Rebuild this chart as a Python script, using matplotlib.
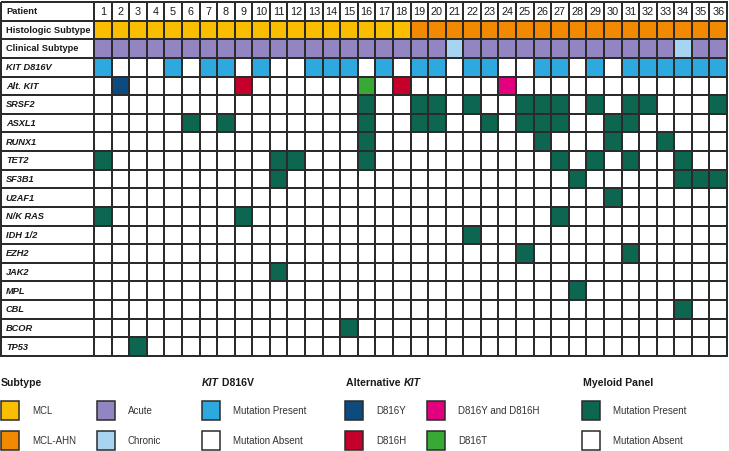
#imports
import matplotlib.pyplot as plt
from matplotlib.colors import ListedColormap
from matplotlib.patches import Rectangle

plt.rcParams['font.family'] = ['Liberation Sans', 'DejaVu Sans']

#--- data (patient numbers per category / mutation)
patients = [1, 2, 3, 4, 5, 6, 7, 8, 9, 10, 11, 12, 13, 14, 15, 16, 17, 18,
            19, 20, 21, 22, 23, 24, 25, 26, 27, 28, 29, 30, 31, 32, 33, 34, 35, 36]
mcl_ahn = [19, 20, 21, 22, 23, 24, 25, 26, 27, 28, 29, 30, 31, 32, 33, 34, 35, 36]
chronic = [21, 34]
kit_d816v = [1, 5, 7, 8, 10, 13, 14, 15, 17, 19, 20, 22, 23, 26, 27, 29,
             31, 32, 33, 34, 35, 36]
alt_kit_patients = [2, 9, 16, 18, 24]
alt_kit_variants = ['D816Y', 'D816H', 'D816T', 'D816H', 'D816Y and D816H']

genes = ['SRSF2', 'ASXL1', 'RUNX1', 'TET2', 'SF3B1', 'U2AF1', 'N/K RAS',
         'IDH 1/2', 'EZH2', 'JAK2', 'MPL', 'CBL', 'BCOR', 'TP53']
srsf2 = [16, 19, 20, 22, 25, 26, 27, 29, 31, 32, 36]
asxl1 = [6, 8, 16, 19, 20, 23, 25, 26, 27, 30, 31]
runx1 = [16, 26, 30, 33]
tet2 = [1, 11, 12, 16, 27, 29, 31, 34]
sf3b1 = [11, 28, 34, 35, 36]
u2af1 = [30]
nk_ras = [1, 9, 27]
idh = [22]
ezh2 = [25, 31]
jak2 = [11]
mpl = [28]
cbl = [34]
bcor = [15]
tp53 = [3]
gene_hits = [srsf2, asxl1, runx1, tet2, sf3b1, u2af1, nk_ras, idh,
             ezh2, jak2, mpl, cbl, bcor, tp53]

#--- colours
colors = {
    'none': '#ffffff',
    'MCL': '#fbbd00',
    'MCL-AHN': '#f18a00',
    'Acute': '#9285c1',
    'Chronic': '#a6d4f1',
    'KIT': '#2ea9e0',
    'D816Y': '#0d4a7e',
    'D816H': '#c4002b',
    'D816Y and D816H': '#e3007e',
    'D816T': '#39a935',
    'Myeloid': '#0c6650',
}
keys = list(colors.keys())
grid_color = '#2b2b2b'

#--- build the code matrix (label column + 36 patients)
row_labels = ['Patient', 'Histologic Subtype', 'Clinical Subtype', 'KIT D816V', 'Alt. KIT'] + genes
n_rows, n_cols = len(row_labels), len(patients)
codes = [[0] * (n_cols + 1) for _ in range(n_rows)]
for j, p in enumerate(patients, start=1):
    codes[1][j] = keys.index('MCL-AHN' if p in mcl_ahn else 'MCL')
    codes[2][j] = keys.index('Chronic' if p in chronic else 'Acute')
    if p in kit_d816v:
        codes[3][j] = keys.index('KIT')
for p, v in zip(alt_kit_patients, alt_kit_variants):
    codes[4][patients.index(p) + 1] = keys.index(v)
for r, hits in enumerate(gene_hits, start=5):
    for p in hits:
        codes[r][patients.index(p) + 1] = keys.index('Myeloid')

#--- figure
W, H = 729, 451
fig = plt.figure(figsize=(W / 100, H / 100), dpi=100)

label_w = 92.5 / 17.58  # label column width in cell units
x_edges = [-label_w] + list(range(n_cols + 1))
y_edges = list(range(n_rows + 1))

ax = fig.add_axes([1.5 / W, 1 - 356 / H, 725.5 / W, 354 / H])
mesh = ax.pcolormesh(x_edges, y_edges, codes, cmap=ListedColormap([colors[k] for k in keys]),
                     vmin=-0.5, vmax=len(keys) - 0.5, edgecolors=grid_color, linewidth=1.2)
mesh.set_clip_on(False)
ax.set_xlim(-label_w, n_cols)
ax.set_ylim(n_rows, 0)
ax.axis('off')

for i, lab in enumerate(row_labels):
    ax.text(-label_w + 0.25, i + 0.52, lab, ha='left', va='center', fontsize=6.7,
            fontweight='bold', fontstyle='italic' if i >= 3 else 'normal', color='#1a1a1a')
for j, p in enumerate(patients):
    ax.text(j + 0.5, 0.55, str(p), ha='center', va='center', fontsize=7.8, color='#1a1a1a')

#--- legend (pixel coordinates)
lax = fig.add_axes([0, 0, 1, 1])
lax.set_xlim(0, W)
lax.set_ylim(H, 0)
lax.axis('off')
renderer = fig.canvas.get_renderer()


def heading(x, y, parts):
    for s, style in parts:
        t = lax.text(x, y, s, ha='left', va='center', fontsize=7.6,
                     fontweight='bold', fontstyle=style, color='#1a1a1a')
        x += t.get_window_extent(renderer=renderer).width


def swatch(x, y, color, label):
    lax.add_patch(Rectangle((x, y), 18.5, 19, facecolor=color,
                            edgecolor=grid_color, linewidth=1.1))
    lax.text(x + 31, y + 10, label, ha='left', va='center', fontsize=7, color='#333333')


row_y = [400.5, 431]
heading(1, 383, [('Subtype', 'normal')])
swatch(1, row_y[0], colors['MCL'], 'MCL')
swatch(1, row_y[1], colors['MCL-AHN'], 'MCL-AHN')
swatch(97, row_y[0], colors['Acute'], 'Acute')
swatch(97, row_y[1], colors['Chronic'], 'Chronic')

heading(202, 383, [('KIT', 'italic'), (' D816V', 'normal')])
swatch(202, row_y[0], colors['KIT'], 'Mutation Present')
swatch(202, row_y[1], colors['none'], 'Mutation Absent')

heading(346, 383, [('Alternative ', 'normal'), ('KIT', 'italic')])
swatch(345, row_y[0], colors['D816Y'], 'D816Y')
swatch(345, row_y[1], colors['D816H'], 'D816H')
swatch(427, row_y[0], colors['D816Y and D816H'], 'D816Y and D816H')
swatch(427, row_y[1], colors['D816T'], 'D816T')

heading(583, 383, [('Myeloid Panel', 'normal')])
swatch(582, row_y[0], colors['Myeloid'], 'Mutation Present')
swatch(582, row_y[1], colors['none'], 'Mutation Absent')

plt.savefig('out.png', dpi=100)
